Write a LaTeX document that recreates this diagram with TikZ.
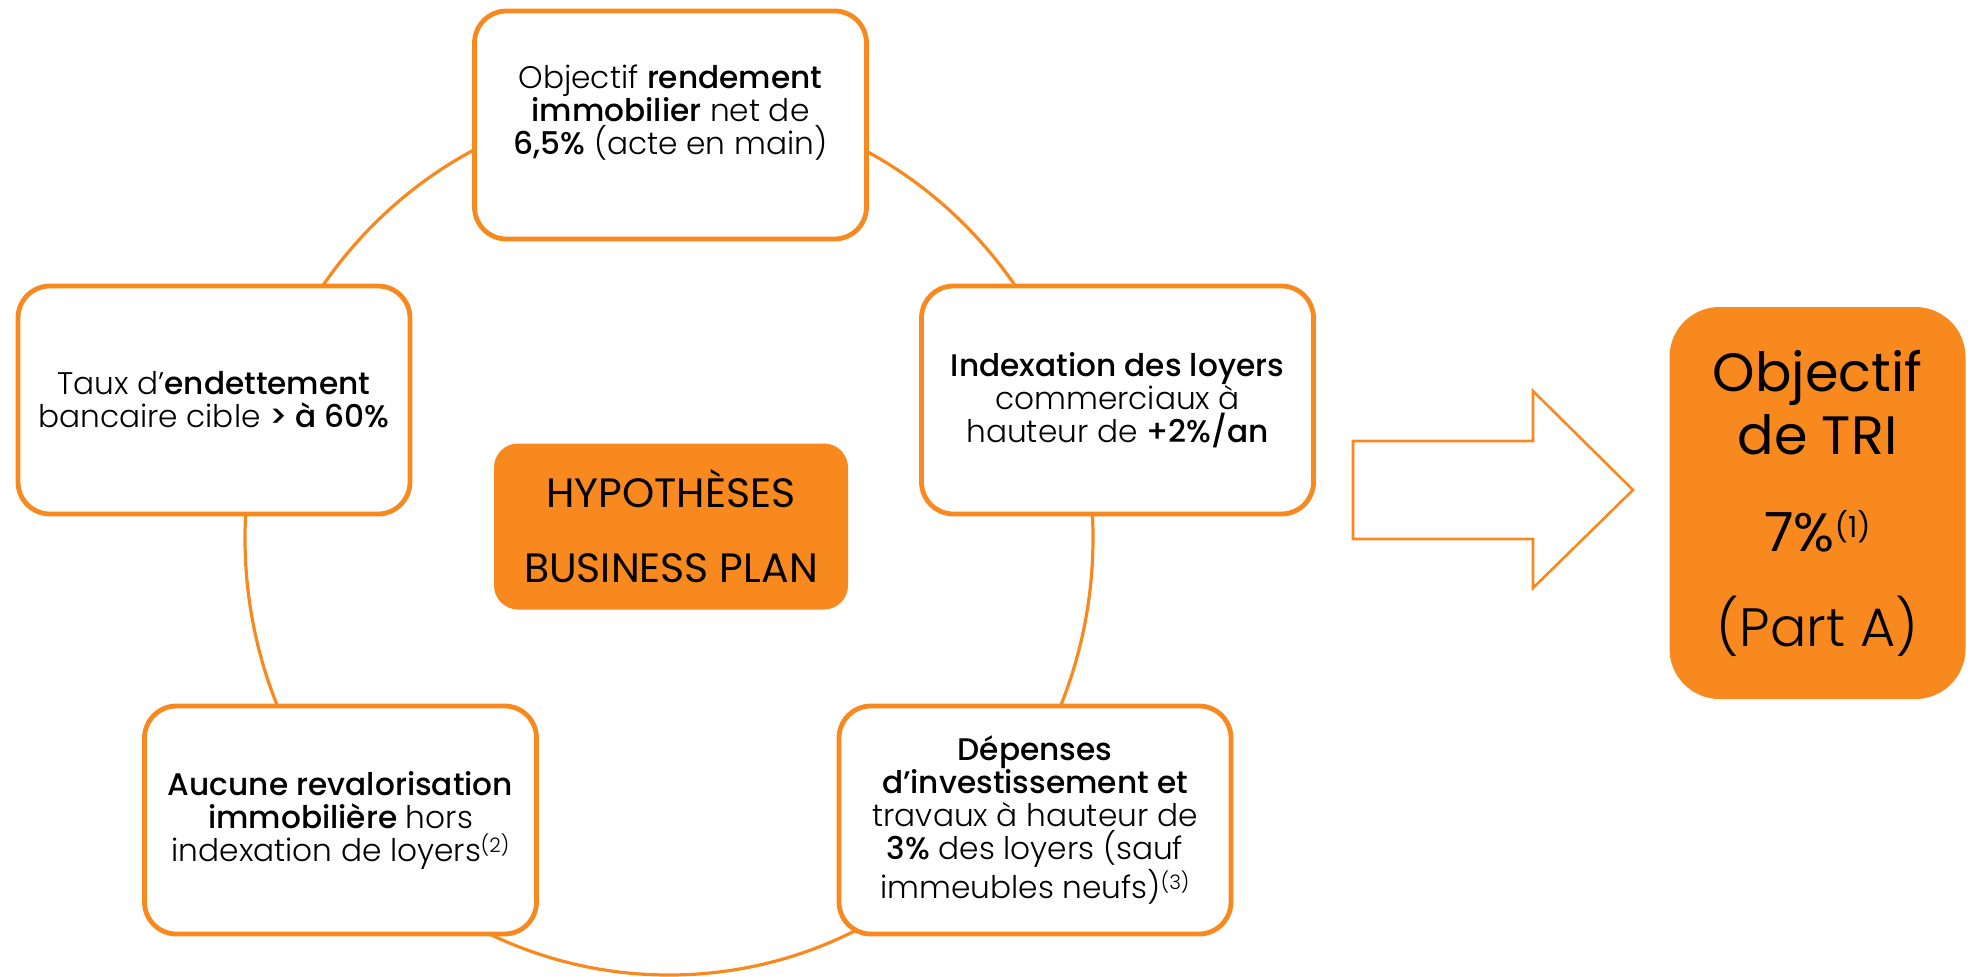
\documentclass[tikz,border=0pt]{standalone}
\usepackage{fontspec}
\setmainfont{Poppins}[UprightFont=* Light, BoldFont=* Medium]
\newfontfamily\regfont{Poppins}
\newcommand{\renvoi}[3]{\raisebox{#1}{\fontsize{#2}{#2}\selectfont #3}}
\definecolor{hyporange}{RGB}{248,137,31}
\tikzset{
  hypbox/.style={draw=hyporange, line width=2.4pt, fill=white, rounded corners=16pt,
    minimum width=196pt, minimum height=114pt, align=center,
    font=\fontsize{15.6}{16.5}\selectfont},
  hyptext/.style={align=center, font=\fontsize{15.6}{16.5}\selectfont},
  ring/.style={draw=hyporange, line width=1.6pt},
  centrebox/.style={fill=hyporange, rounded corners=12pt, minimum width=177pt,
    minimum height=83pt, align=center, font=\regfont\fontsize{20.5}{37.5}\selectfont},
  tribox/.style={fill=hyporange, rounded corners=25pt, minimum width=148pt,
    minimum height=196pt, align=center, font=\regfont\fontsize{27}{31.5}\selectfont},
  bigarrow/.style={draw=hyporange, line width=1.3pt, fill=white}
}
\begin{document}
\begin{tikzpicture}[x=0.5pt,y=-0.5pt]
  \useasboundingbox (0,0) rectangle (1972,976);
  % ring behind the boxes
  \draw[ring] (669,538) ellipse [x radius=424, y radius=437];

  \node[hypbox] (rend) at (670.5,125) {};
  \node[hyptext] (rendtxt) at (670.5,113) {Objectif \textbf{rendement}\\
    \textbf{immobilier} net de\\ \textbf{6,5\%} (acte en main)};
  \node[hypbox] (endet) at (214,400) {Taux d’\textbf{endettement}\\
    bancaire cible \textbf{> à 60\%}};
  \node[hypbox] (index) at (1117.5,400) {\textbf{Indexation des loyers}\\
    commerciaux à\\ hauteur de \textbf{+2\%/an}};
  \node[hypbox] (reval) at (340.5,820) {\textbf{Aucune revalorisation}\\
    \textbf{immobilière} hors\\ indexation de loyers\renvoi{4.5pt}{10}{(2)}};
  \node[hypbox] (depens) at (1035,820) {\textbf{Dépenses}\\
    \textbf{d’investissement et}\\ travaux à hauteur de\\
    \textbf{3\%} des loyers (sauf\\ immeubles neufs)\renvoi{4.5pt}{10}{(3)}};

  \node[centrebox] (hyp) at (671,526.5) {HYPOTHÈSES\\ BUSINESS PLAN};

  % arrow to the target
  \coordinate (arr) at (1353,490);
  \draw[bigarrow] (arr) ++(0,-49) -- (1533,441) -- (1533,391) -- (1633,490)
    -- (1533,588) -- (1533,539) -- (1353,539) -- cycle;

  \node[tribox] (tri) at (1817.5,503) {Objectif\\ de TRI\\[17pt]
    7\%\renvoi{7pt}{14.5}{(1)}\\[16pt] {\fontspec{Poppins Light}(Part A)}};
\end{tikzpicture}
\end{document}
